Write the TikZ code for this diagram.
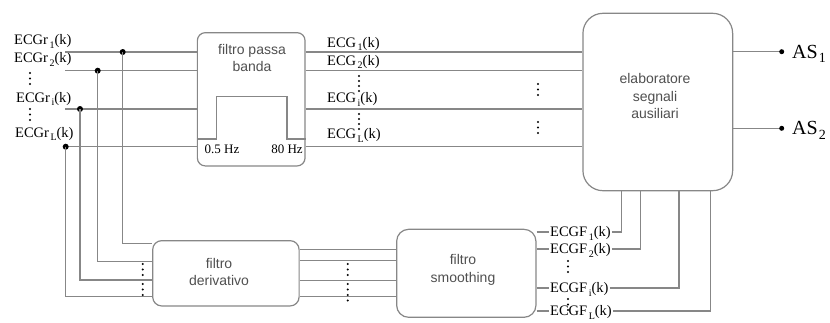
\documentclass[tikz,border=0pt]{standalone}
\usepackage{fontspec}
\setmainfont{Liberation Serif}
\newfontfamily\boxfont{Liberation Sans}
\usepackage{tikz}
\usetikzlibrary{positioning}
\definecolor{wiregray}{RGB}{135,135,135}
\definecolor{boxtextgray}{RGB}{80,80,80}
\newcommand{\sbs}[1]{\kern1.5pt\raisebox{-3.2pt}{\fontsize{10}{10}\selectfont #1}}
\newcommand{\sbsout}[1]{\kern1pt\raisebox{-4.5pt}{\fontsize{14}{14}\selectfont #1}}
\newcommand{\dotcol}[4]{\foreach \k in {1,...,#3} \fill ({#1},{#2+#4*(\k-1)}) circle (1.1pt);}
\tikzset{
  ecgbox/.style={draw=wiregray, line width=1.2pt, inner sep=0pt, fill=white},
  ecgtext/.style={font=\boxfont\fontsize{14}{17.5}\selectfont, text=boxtextgray, align=center, inner sep=0pt},
  ecgwire/.style={draw=wiregray, line width=1.1pt},
  ecglabel/.style={font=\fontsize{14.5}{18}\selectfont, anchor=west, inner sep=1pt, text height=9.6pt, text depth=0pt},
  ecgout/.style={font=\fontsize{20}{24}\selectfont, anchor=west, inner sep=0pt, text height=13.2pt, text depth=0pt},
  ecghz/.style={font=\fontsize{13}{15}\selectfont, inner sep=0pt, text height=8.6pt, text depth=0pt}
}

\begin{document}
\begin{tikzpicture}[x=1pt, y=-1pt]
\useasboundingbox (0,0) rectangle (830,322);

% blocks
\node[ecgbox, rounded corners=8pt, minimum width=107.7pt, minimum height=133.3pt] (bp) at (251.2,99.3) {};
\node[ecgbox, rounded corners=20pt, minimum width=149.7pt, minimum height=177.4pt] (el) at (657.8,102) {};
\node[ecgbox, rounded corners=9pt, minimum width=146.4pt, minimum height=65.3pt] (der) at (225.9,273.3) {};
\node[ecgbox, rounded corners=12pt, minimum width=139.3pt, minimum height=88pt] (sm) at (466.3,273.3) {};
\node[ecgtext] (bptext) at (252,58) {filtro passa\\banda};
\node[ecgtext] (eltext) at (655,96) {elaboratore\\segnali\\ausiliari};
\node[ecgtext] (dertext) at (219,272) {filtro\\derivativo};
\node[ecgtext] (smtext) at (463,270) {filtro\\smoothing};

% band of the filter
\draw[ecgwire] (bp.west |- 0,139) -- (216.7,139) -- (216.7,96.7) -- (287,96.7) -- (287,139) -- (bp.east |- 0,139);
\node[ecghz] (hzlo) at (222,149) {0.5 Hz};
\node[ecghz] (hzhi) at (287,149) {80 Hz};

% raw inputs
\node[ecglabel] (r1) at (13,40) {ECGr\sbs{1}(k)};
\node[ecglabel] (r2) at (13,58) {ECGr\sbs{2}(k)};
\node[ecglabel] (ri) at (15,97.5) {ECGr\sbs{i}(k)};
\node[ecglabel] (rL) at (14,132.5) {ECGr\sbs{L}(k)};
\dotcol{30}{73}{3}{5.5}
\dotcol{30}{109}{3}{5.5}
\coordinate (in1) at (65,52);
\coordinate (in2) at (65,70.7);
\coordinate (ini) at (65,109);
\coordinate (inL) at (65.7,146.7);
\coordinate (j1) at (122.7,52);
\coordinate (j2) at (97.7,70.7);
\coordinate (ji) at (80,109);
\foreach \c in {in1,in2,ini,inL}
  \draw[ecgwire] (\c) -- (\c -| bp.west);
\foreach \c in {j1,j2,ji,inL}
  \fill (\c) circle (3pt);

% branch to filtro derivativo
\draw[ecgwire] (j1) |- (der.west |- 0,243.3);
\draw[ecgwire] (j2) |- (der.west |- 0,261.7);
\draw[ecgwire] (ji) |- (der.west |- 0,280);
\draw[ecgwire] (inL) |- (der.west |- 0,296.7);
\dotcol{142.7}{264}{3}{5.5}
\dotcol{142.7}{284}{3}{5.5}

% derivativo -> smoothing
\foreach \y in {249.3,260.7,280.7,296.7}
  \draw[ecgwire] (der.east |- 0,\y) -- (sm.west |- 0,\y);
\dotcol{347.7}{264}{3}{5.5}
\dotcol{347.7}{284}{4}{5.5}

% filtered ECG
\node[ecglabel] (g1) at (326,42.5) {ECG\sbs{1}(k)};
\node[ecglabel] (g2) at (326,60.5) {ECG\sbs{2}(k)};
\node[ecglabel] (gi) at (326,98) {ECG\sbs{i}(k)};
\node[ecglabel] (gL) at (326,134) {ECG\sbs{L}(k)};
\dotcol{359}{76}{4}{5}
\dotcol{359}{114}{4}{5}
\foreach \y in {52,70.7,109,146.7}
  \draw[ecgwire] (bp.east |- 0,\y) -- (el.west |- 0,\y);
\dotcol{538}{84}{3}{5.5}
\dotcol{538}{122}{3}{5.5}

% smoothed ECG
\node[ecglabel] (f1) at (549,232) {ECGF\sbs{1}(k)};
\node[ecglabel] (f2) at (549,249) {ECGF\sbs{2}(k)};
\node[ecglabel] (fi) at (549,288) {ECGF\sbs{i}(k)};
\node[ecglabel] (fL) at (549,311) {ECGF\sbs{L}(k)};
\dotcol{568}{261}{3}{5.5}
\dotcol{568}{299}{3}{5.5}
\foreach \f in {f1,f2,fi,fL}
  \draw[ecgwire] (sm.east |- \f.west) -- (\f.west);
\draw[ecgwire] (f1.east) -| (el.south -| 621.7,0);
\draw[ecgwire] (f2.east) -| (el.south -| 640.7,0);
\draw[ecgwire] (fi.east) -| (el.south -| 679,0);
\draw[ecgwire] (fL.east) -| (el.south -| 710.5,0);

% auxiliary outputs
\node[ecgout] (as1) at (792,51.7) {AS\sbsout{1}};
\node[ecgout] (as2) at (792,128.3) {AS\sbsout{2}};
\coordinate (o1) at (781.7,51.7);
\coordinate (o2) at (781.7,128.3);
\draw[ecgwire] (el.east |- o1) -- (o1);
\draw[ecgwire] (el.east |- o2) -- (o2);
\fill (o1) circle (2.5pt);
\fill (o2) circle (2.5pt);
\end{tikzpicture}
\end{document}
